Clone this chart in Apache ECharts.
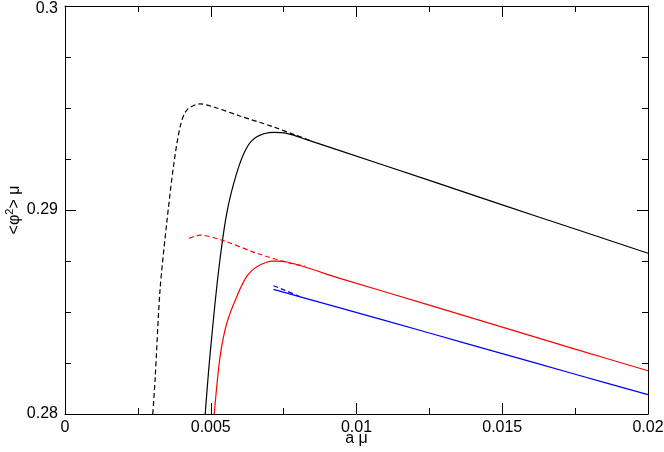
<!DOCTYPE html>
<html>
<head>
<meta charset="utf-8">
<script src="https://cdn.jsdelivr.net/npm/echarts@6/dist/echarts.min.js"></script>
<style>
  html, body { margin: 0; padding: 0; background: #fff; }
  #chart { width: 664px; height: 452px; }
</style>
</head>
<body>
<div id="chart"></div>
<script>
// values: [a·mu, <phi^2>·mu]
const blackSolid = [
  [0.00481, 0.28], [0.00497, 0.28281], [0.00526, 0.28691], [0.00555, 0.28985],
  [0.00589, 0.29181], [0.00623, 0.29304], [0.00658, 0.29359], [0.00715, 0.29381],
  [0.00761, 0.29376], [0.00829, 0.29345], [0.00943, 0.29291], [0.0125, 0.29145],
  [0.015, 0.29025], [0.0175, 0.28907], [0.02, 0.28788],
]
const blackDashed = [
  [0.00301, 0.28], [0.00309, 0.28167], [0.00326, 0.28608], [0.00349, 0.28936],
  [0.00372, 0.29212], [0.00395, 0.29408], [0.00418, 0.2949], [0.00463, 0.2952],
  [0.00508, 0.29506], [0.006, 0.29461], [0.00714, 0.29408], [0.00795, 0.29365],
  [0.0085, 0.29336],
]
const redSolid = [
  [0.00512, 0.28], [0.00532, 0.28281], [0.00555, 0.28445], [0.00589, 0.28575],
  [0.00623, 0.28673], [0.00658, 0.28722], [0.00715, 0.28749], [0.00761, 0.28745],
  [0.00943, 0.28665], [0.0125, 0.28534], [0.015, 0.28426], [0.0175, 0.28318],
  [0.02, 0.28212],
]
const redDashed = [
  [0.00426, 0.28861], [0.00463, 0.28877], [0.00543, 0.2885], [0.00658, 0.28788],
  [0.00772, 0.28739], [0.00823, 0.28725],
]
const blueSolid = [
  [0.00715, 0.28611], [0.00943, 0.2852], [0.0125, 0.28397], [0.015, 0.28296],
  [0.0175, 0.28195], [0.02, 0.28095],
]
const blueDashed = [
  [0.00715, 0.28629], [0.00755, 0.28606], [0.00806, 0.28575],
]

const xTicks = { min: 0, max: 0.02, interval: 0.005 }
const yTicks = { min: 0.28, max: 0.3, interval: 0.01 }

const font = 'Liberation Sans, Arial, Helvetica, sans-serif'

const frameAxis = (extra) => ({
  type: 'value',
  axisLine: { show: true, onZero: false, lineStyle: { color: '#000', width: 1 } },
  axisTick: { show: true, inside: true, length: 11, lineStyle: { color: '#000' } },
  splitLine: { show: false },
  ...extra,
})

function line(data, color, dashed) {
  return {
    type: 'line',
    data,
    smooth: 0.3,
    showSymbol: false,
    silent: true,
    lineStyle: { color, width: 1.2, type: dashed ? [5, 3] : 'solid' },
  }
}

const chart = echarts.init(document.getElementById('chart'))
chart.setOption({
  animation: false,
  backgroundColor: '#fff',
  grid: { left: 65, right: 16, top: 6, bottom: 38, outerBoundsMode: 'none', containLabel: false },
  xAxis: [
    frameAxis({
      ...xTicks, position: 'bottom',
      minorTick: { show: true, splitNumber: 2, length: 6, lineStyle: { color: '#000' } },
      axisLabel: { color: '#000', fontSize: 16, fontFamily: font, margin: 6,
        formatter: (v) => String(+v.toFixed(3)) },
      name: 'a μ', nameLocation: 'middle', nameGap: 17, nameMoveOverlap: false,
      nameTextStyle: { color: '#000', fontSize: 16, fontFamily: font },
    }),
    frameAxis({
      ...xTicks, position: 'top',
      minorTick: { show: true, splitNumber: 2, length: 6, lineStyle: { color: '#000' } },
      axisLabel: { show: false },
    }),
  ],
  yAxis: [
    frameAxis({
      ...yTicks, position: 'left',
      minorTick: { show: true, splitNumber: 4, length: 6, lineStyle: { color: '#000' } },
      axisLabel: { color: '#000', fontSize: 16, fontFamily: font, margin: 7,
        formatter: (v) => {
          const s = String(+v.toFixed(3))
          return v >= 0.3 ? '{top|' + s + '}' : s
        },
        rich: { top: { fontSize: 16, fontFamily: font, color: '#000', padding: [6, 0, 0, 0] } } },
      name: '<φ{sup|2}> μ', nameLocation: 'middle', nameGap: 40, nameMoveOverlap: false,
      nameTextStyle: { color: '#000', fontSize: 16, fontFamily: font,
        rich: { sup: { fontSize: 11, verticalAlign: 'bottom', padding: [0, 0, 10, 0], fontFamily: font, color: '#000' } } },
    }),
    frameAxis({
      ...yTicks, position: 'right',
      minorTick: { show: true, splitNumber: 4, length: 6, lineStyle: { color: '#000' } },
      axisLabel: { show: false },
    }),
  ],
  series: [
    line(blackDashed, '#000', true),
    line(blackSolid, '#000', false),
    line(redDashed, '#ff0000', true),
    line(redSolid, '#ff0000', false),
    line(blueDashed, '#0000ff', true),
    line(blueSolid, '#0000ff', false),
  ],
})
</script>
</body>
</html>
